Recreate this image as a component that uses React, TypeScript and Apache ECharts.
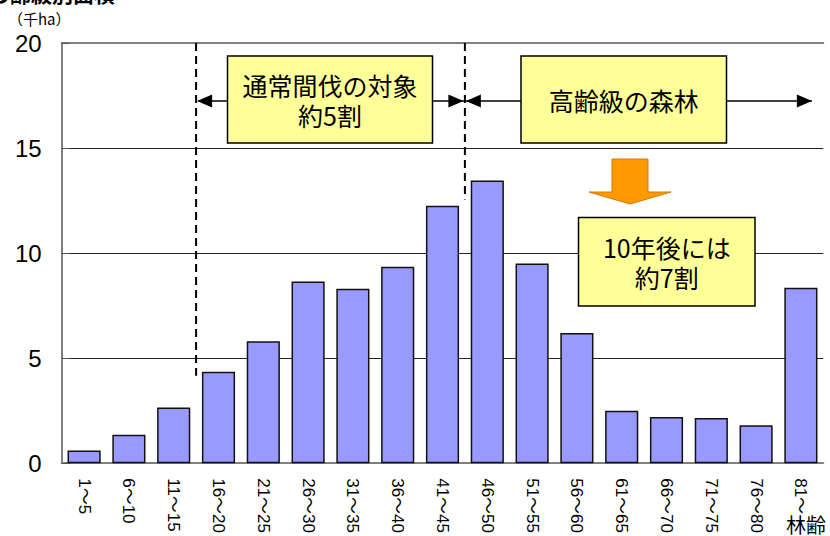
import React, { useEffect, useRef } from "react";
import * as echarts from "echarts";

const categories = [
  "1～5", "6～10", "11～15", "16～20", "21～25", "26～30", "31～35", "36～40",
  "41～45", "46～50", "51～55", "56～60", "61～65", "66～70", "71～75", "76～80", "81～",
];
const areaValues = [0.6, 1.35, 2.65, 4.35, 5.8, 8.65, 8.3, 9.35, 12.25, 13.45, 9.5, 6.2, 2.5, 2.2, 2.15, 1.8, 8.35];
const yTicks = { min: 0, max: 20, interval: 5 };
const unitLabel = "（千ha）";
const xAxisName = "林齢";
const titleText = "の齢級別面積";
const box1Text = "通常間伐の対象\n約5割";
const box2Text = "高齢級の森林";
const box3Text = "10年後には\n約7割";

const FONT = "'Noto Sans CJK JP', 'Noto Sans', sans-serif";
const NUMFONT = "'Liberation Sans', 'Noto Sans CJK JP', sans-serif";

export default function App() {
  const ref = useRef<HTMLDivElement>(null);
  useEffect(() => {
    if (!ref.current) return;
    const chart = echarts.init(ref.current, undefined, { renderer: "svg" });
    chart.setOption({
      animation: false,
      backgroundColor: "#ffffff",
      grid: { left: 61.7, right: 6.7, top: 43, bottom: 70, containLabel: false },
      xAxis: [
        {
          type: "category",
          data: categories,
          boundaryGap: true,
          axisLine: { lineStyle: { color: "#808080", width: 2 } },
          axisTick: { inside: true, length: 5, lineStyle: { color: "#808080", width: 1 } },
          axisLabel: {
            rotate: -90,
            fontSize: 17,
            margin: 15,
            color: "#000",
            fontFamily: NUMFONT,
            interval: 0,
          },
        },
        {
          type: "category",
          position: "top",
          data: categories,
          axisLine: { show: true, lineStyle: { color: "#808080", width: 2 } },
          axisTick: { show: false },
          axisLabel: { show: false },
        },
      ],
      yAxis: {
        type: "value",
        min: yTicks.min,
        max: yTicks.max,
        interval: yTicks.interval,
        axisLine: { show: true, lineStyle: { color: "#808080", width: 2 } },
        axisTick: { show: true, inside: true, length: 8, lineStyle: { color: "#555", width: 1 } },
        axisLabel: { fontSize: 24, margin: 20, color: "#000", fontFamily: NUMFONT },
        splitLine: { show: true, lineStyle: { color: "#222", width: 1 } },
      },
      series: [
        {
          type: "bar",
          data: areaValues,
          barCategoryGap: "26%",
          itemStyle: { color: "#9999FF", borderColor: "#111", borderWidth: 1.5 },
          z: 2,
        },
      ],
    });

    const cx = (i: number) => chart.convertToPixel({ xAxisIndex: 0 }, categories[i]) as number;
    const d1 = (cx(2) + cx(3)) / 2;
    const d2 = (cx(8) + cx(9)) / 2;
    const yTop = chart.convertToPixel({ yAxisIndex: 0 }, 20) as number;
    const d1End = (chart.convertToPixel({ yAxisIndex: 0 }, areaValues[3]) as number) + 4;
    const d2End = (chart.convertToPixel({ yAxisIndex: 0 }, areaValues[9]) as number) + 19;
    const arrowY = 101;
    const rightTip = cx(16) + 11;

    const tri = (tipX: number, dir: number) => ({
      type: "polygon",
      shape: {
        points: [
          [tipX, arrowY],
          [tipX + dir * 15, arrowY - 6.5],
          [tipX + dir * 15, arrowY + 6.5],
        ],
      },
      style: { fill: "#000" },
      z: 20,
    });

    const box = (x: number, y: number, w: number, h: number, text: string) => ({
      type: "group",
      z: 30,
      children: [
        {
          type: "rect",
          shape: { x, y, width: w, height: h },
          style: { fill: "#FFFF99", stroke: "#000", lineWidth: 1.5 },
          z: 30,
        },
        {
          type: "text",
          x: x + w / 2,
          y: y + h / 2,
          style: {
            text,
            fill: "#000",
            font: `25px ${FONT}`,
            align: "center",
            verticalAlign: "middle",
            lineHeight: 30,
          },
          z: 31,
        },
      ],
    });

    chart.setOption({
      graphic: [
        {
          type: "text",
          left: -11,
          top: -18,
          style: { text: titleText, fill: "#000", font: `bold 21px ${FONT}` },
        },
        {
          type: "text",
          left: 8,
          top: 11,
          style: { text: unitLabel, fill: "#000", font: `15px ${FONT}` },
        },
        {
          type: "text",
          left: 786,
          top: 514,
          style: { text: xAxisName, fill: "#000", font: `20px ${FONT}` },
        },
        {
          type: "line",
          shape: { x1: d1, y1: yTop, x2: d1, y2: d1End },
          style: { stroke: "#000", lineWidth: 2, lineDash: [8, 5] },
          z: 10,
        },
        {
          type: "line",
          shape: { x1: d2, y1: yTop, x2: d2, y2: d2End },
          style: { stroke: "#000", lineWidth: 2, lineDash: [8, 5] },
          z: 10,
        },
        {
          type: "line",
          shape: { x1: d1 + 2, y1: arrowY, x2: rightTip, y2: arrowY },
          style: { stroke: "#000", lineWidth: 1.5 },
          z: 15,
        },
        tri(d1 + 1, 1),
        tri(d2 - 1.5, -1),
        tri(d2 + 1, 1),
        tri(rightTip, -1),
        box(227.5, 56, 205, 87, box1Text),
        box(521, 56, 205.5, 87, box2Text),
        {
          type: "polygon",
          shape: {
            points: [
              [612, 159],
              [648, 159],
              [648, 192],
              [671, 192],
              [630, 204],
              [589, 192],
              [612, 192],
            ],
          },
          style: { fill: "#FF9900", stroke: "#D97800", lineWidth: 1 },
          z: 30,
        },
        box(578.5, 217.5, 176.5, 88.5, box3Text),
      ],
    });
    return () => chart.dispose();
  }, []);
  return (
    <div
      ref={ref}
      style={{ position: "fixed", left: 0, top: 0, width: 830, height: 536 }}
    />
  );
}
